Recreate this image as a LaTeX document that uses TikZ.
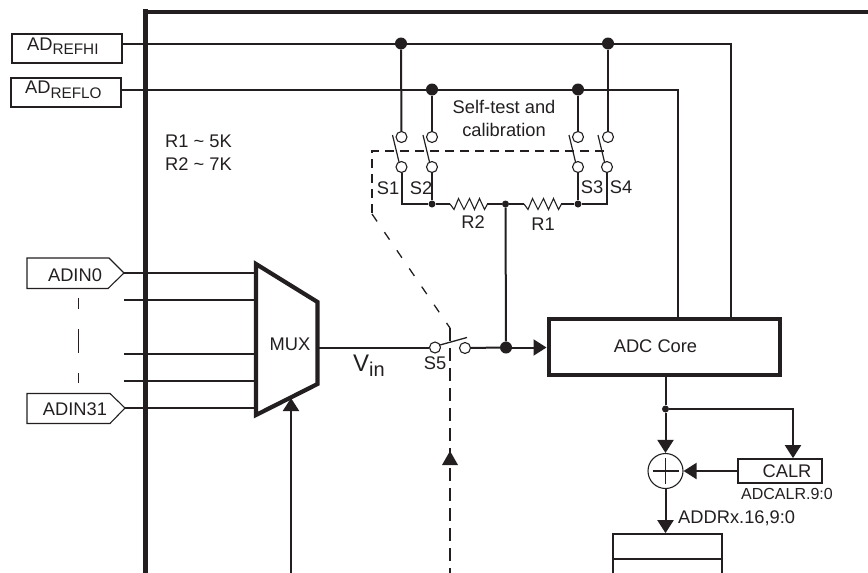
\documentclass[tikz,border=0pt]{standalone}
\usepackage{fontspec}
\setmainfont{Liberation Sans}
\usetikzlibrary{arrows.meta,calc}
\definecolor{ink}{HTML}{231F20}
\tikzset{
  wire/.style={draw=ink,line width=2pt},
  thinwire/.style={draw=ink,line width=1.1pt},
  tipped/.style={wire,-{Triangle[length=13pt,width=16pt,color=ink]}},
  dashwire/.style={draw=ink,line width=1.9pt,dash pattern=on 9pt off 6pt},
  heavy/.style={draw=ink,line width=4.2pt},
  lab/.style={text=ink,inner sep=0pt,font=\fontsize{18.3}{20}\selectfont},
  bigdot/.style={circle,fill=ink,inner sep=0pt,minimum size=12pt},
  smalldot/.style={circle,fill=ink,inner sep=0pt,minimum size=7pt},
  swc/.style={circle,draw=ink,line width=1.1pt,fill=white,inner sep=0pt,minimum size=11pt},
  refbox/.style={rectangle,draw=ink,line width=2pt,inner sep=0pt},
  corebox/.style={rectangle,draw=ink,line width=4pt,inner sep=0pt,minimum width=231pt,minimum height=56pt},
  calbox/.style={rectangle,draw=ink,line width=1.7pt,inner sep=0pt,minimum width=84pt,minimum height=24pt},
}
\newcommand{\zigpath}{-- ++(4,5.5) -- ++(4.5,-11) -- ++(5.5,11) -- ++(5.5,-11) -- ++(5,11) -- ++(5,-11) -- ++(5,11) -- ++(3,-5.5)}
\newcommand{\subtxt}[1]{\raisebox{-4.5pt}{\fontsize{15.3}{15}\selectfont #1}}
\begin{document}
\begin{tikzpicture}[x=1pt,y=-1pt]
\useasboundingbox (0,0) rectangle (868,573);
% frame
\coordinate (fa) at (143,12); \coordinate (fb) at (868,12);
\coordinate (fc) at (145,9); \coordinate (fd) at (145,573);
\draw[heavy] (fa) -- (fb);
\draw[draw=ink,line width=5pt] (fc) -- (fd);
% reference boxes
\node[refbox,minimum width=110pt,minimum height=29pt] (hi) at (67,48) {};
\node[lab,anchor=west] (hilab) at (27,46) {AD\subtxt{REFHI}};
\node[refbox,minimum width=110pt,minimum height=29pt] (lo) at (66,92) {};
\node[lab,anchor=west] (lolab) at (25,90) {AD\subtxt{REFLO}};
\node[lab,anchor=west] (r1v) at (165,141) {R1 \textasciitilde{} 5K};
\node[lab,anchor=west] (r2v) at (165,164) {R2 \textasciitilde{} 7K};
% ADC core
\node[corebox] (core) at (664,346.5) {};
\node[lab] (corelab) at (655.5,346) {ADC Core};
% junctions on reference rails
\coordinate (hic) at (731,43.5); \coordinate (hid) at (731,317);
\coordinate (loc) at (678,89.5); \coordinate (lod) at (678,317);
\coordinate (his) at (122,43.5); \coordinate (los) at (121,89.5);
\node[bigdot] (j1) at (401,43.5) {};
\node[bigdot] (j4) at (608,43.5) {};
\node[bigdot] (j2) at (432,89.5) {};
\node[bigdot] (j3) at (578,89.5) {};
\draw[wire] (his) -- (hic) -- (hid);
\draw[wire] (los) -- (loc) -- (lod);
% dashed control
\coordinate (da) at (604,151); \coordinate (db) at (372,151); \coordinate (dc) at (372,214);
\coordinate (dd) at (450,328); \coordinate (de) at (450,573);
\draw[dashwire] (da) -- (db) -- (dc);
\draw[draw=ink,line width=1.3pt,dash pattern=on 9pt off 13pt] (dc) -- (dd);
\draw[dashwire,dash pattern=on 13pt off 7pt] (dd) -- (de);
\fill[ink] (442,465) -- (450,451) -- (458,465) -- cycle;
% switches
\foreach \n/\xu/\xl in {1/401.5/401.5,2/432/432,3/578/578,4/608/607}{
  \node[swc] (u\n) at (\xu,137) {};
  \node[swc] (l\n) at (\xl,167) {};
  \draw[thinwire,line width=1.2pt] ($(l\n)+(-9,-32)$) -- ($(l\n)+(-2.5,-5)$);
}
\coordinate (b1) at (401.5,204); \coordinate (b4) at (607,204);
\node[smalldot] (m2) at (432,204) {};
\node[smalldot] (mc) at (505.5,204) {};
\node[smalldot] (m3) at (578,204) {};
\draw[wire] (j1) -- (u1); \draw[wire] (j2) -- (u2);
\draw[wire] (j3) -- (u3); \draw[wire] (j4) -- (u4);
\draw[wire] (l1) -- (b1) -- (m2); \draw[wire] (l2) -- (m2);
\draw[wire] (l3) -- (m3); \draw[wire] (l4) -- (b4) -- (m3);
% resistors
\coordinate (r2a) at (450,204); \coordinate (r2b) at (487,204);
\coordinate (r1a) at (524,204); \coordinate (r1b) at (561,204);
\draw[draw=ink,line width=1.7pt] (m2) -- (r2a);
\draw[draw=ink,line width=1.7pt] (r2b) -- (mc);
\draw[draw=ink,line width=1.7pt] (mc) -- (r1a);
\draw[draw=ink,line width=1.7pt] (r1b) -- (m3);
\draw[thinwire] (r2a) \zigpath;
\draw[thinwire] (r1a) \zigpath;
% labels of switches
\node[lab] (s1) at (388,188) {S1};
\node[lab] (s2) at (421,188) {S2};
\node[lab] (s3) at (592,187) {S3};
\node[lab] (s4) at (621,187) {S4};
\node[lab] (rl2) at (473,222) {R2};
\node[lab] (rl1) at (543,224) {R1};
\node[lab] (st1) at (504,107) {Self-test and};
\node[lab] (st2) at (504,130) {calibration};
% MUX
\coordinate (ma) at (256,264); \coordinate (mb) at (317.5,302);
\coordinate (mcc) at (317.5,384); \coordinate (md) at (256,415);
\draw[heavy,line join=miter,fill=white] (ma) -- (mb) -- (mcc) -- (md) -- cycle;
\node[lab] (mux) at (290,344) {MUX};
% inputs
\coordinate (p0) at (124,273); \coordinate (p1) at (124,300); \coordinate (p2) at (124,354);
\coordinate (p3) at (124,381); \coordinate (p4) at (125,408);
\foreach \p/\y in {p0/273,p1/300,p2/354,p3/381,p4/408}{
  \coordinate (q\p) at (255,\y);
  \draw[draw=ink,line width=1.9pt] (\p) -- (q\p);
}
\draw[thinwire] (27,258) -- (109,258) -- (p0) -- (108,288.5) -- (27,288.5) -- cycle;
\draw[thinwire] (27,393.5) -- (110,393.5) -- (p4) -- (110,423.5) -- (27,423.5) -- cycle;
\node[lab] (adin0) at (75,275) {ADIN0};
\node[lab] (adin31) at (75,409) {ADIN31};
\foreach \a/\b in {298/309,329/353,373/383}{
  \draw[draw=ink,line width=0.9pt] (78.5,\a) -- (78.5,\b);
}
% mux select
\coordinate (sb) at (291,573); \coordinate (st) at (291,398);
\draw[tipped] (sb) -- (st);
% mux output and S5
\node[swc] (s5a) at (435,347.5) {};
\node[swc] (s5b) at (465,348) {};
\node[bigdot] (j5) at (506,347.5) {};
\coordinate (mo) at (319,347.5);
\draw[wire] (mo) -- (s5a);
\draw[wire] (s5b) -- (j5);
\draw[tipped] (j5) -- (core.west |- j5);
\draw[thinwire,line width=1.3pt] ($(s5a)+(5,-2.5)$) -- ($(s5a)+(32,-10)$);
\draw[wire] (mc) -- (j5);
\node[lab] (s5) at (435,363.5) {S5};
\node[text=ink,inner sep=0pt,font=\fontsize{24}{26}\selectfont] (vin) at (369,366) {V\raisebox{-5pt}{\fontsize{20}{20}\selectfont in}};
% bottom of ADC
\coordinate (c0) at (665.5,376);
\node[smalldot] (j6) at (665.5,409) {};
\coordinate (c1) at (793,409);
\node[calbox] (calr) at (780,471) {};
\node[lab] (calrlab) at (787,471) {CALR};
\node[lab,font=\fontsize{16}{18}\selectfont] (adcalr) at (787,494) {ADCALR.9:0};
\node[circle,draw=ink,line width=1.1pt,inner sep=0pt,minimum size=35pt] (sum) at (665.5,471) {};
\draw[draw=ink,line width=1.6pt] (sum.center)+(-13,0) -- +(13,0);
\draw[draw=ink,line width=1.6pt] (sum.center)+(0,-13) -- +(0,13);
\draw[wire] (c0) -- (j6);
\draw[tipped] (j6) -- (sum);
\draw[tipped] (j6) -- (c1) -- (calr.north -| c1);
\draw[tipped] (calr.west) -- (sum.east);
\node[calbox,minimum width=109pt,minimum height=25pt] (reg1) at (667.5,546.5) {};
\coordinate (rl) at (613,559); \coordinate (rlb) at (613,573);
\coordinate (rr) at (722,559); \coordinate (rrb) at (722,573);
\draw[draw=ink,line width=1.7pt] (rl) -- (rlb);
\draw[draw=ink,line width=1.7pt] (rr) -- (rrb);
\draw[tipped] (sum.south) -- (reg1.north -| sum.south);
\node[lab,anchor=west] (addr) at (678,518) {ADDRx.16,9:0};
\end{tikzpicture}
\end{document}
